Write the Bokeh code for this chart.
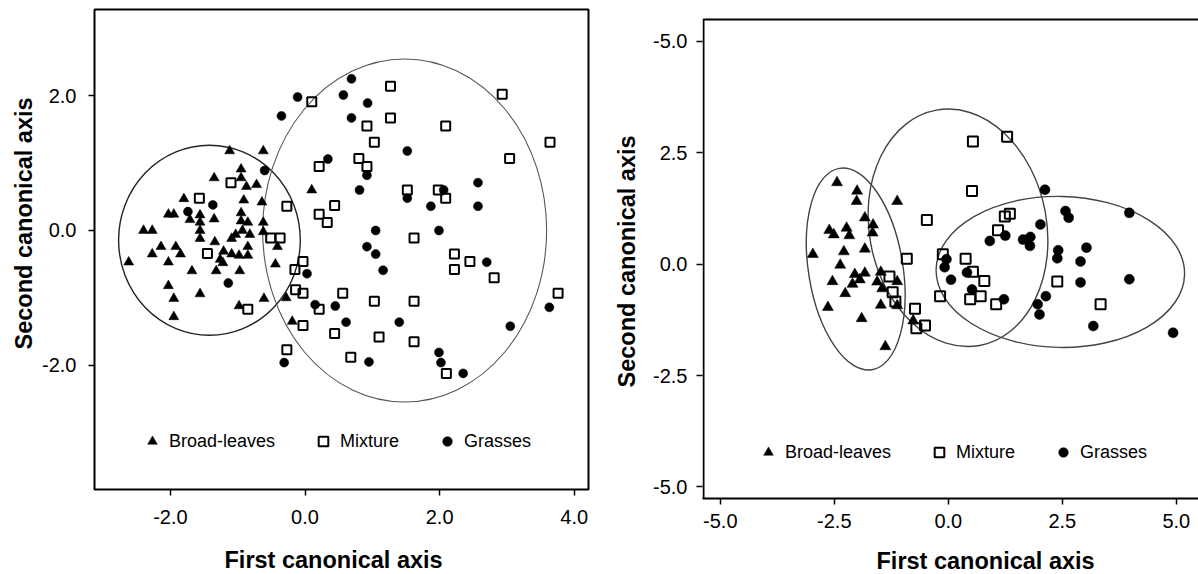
from bokeh.plotting import figure
from bokeh.models import (Range1d, FixedTicker, Legend, LegendItem, PrintfTickFormatter,
                          Title, BoxAnnotation)
from bokeh.layouts import row
from bokeh.embed import file_html
from bokeh.resources import INLINE

FONT = "Liberation Sans"

# ---------------- Left panel data ----------------
L_broad_x = [-1.12, -0.62, -0.95, -0.95, -1.35, -0.87, -0.72, -1.80, -0.91, -0.64,
             -2.03, -1.95, -1.71, -1.56, -1.35, -0.95, -0.95, -1.56, -1.56, -0.85,
             -0.62, -2.40, -2.27, -1.56, -1.09, -1.03, -0.93, -0.82, -1.34, -2.14,
             -1.92, -2.27, -1.85, -1.21, -1.09, -0.98, -0.85, -1.26, -1.22, -0.85,
             -0.41, -0.62, -2.62, -2.03, -1.68, -1.32, -0.97, -0.44, -2.03, -1.95,
             -1.56, -0.61, -0.28, -0.98, -1.95, -0.19, 0.10]
L_broad_y = [1.18, 1.18, 0.91, 0.78, 0.78, 0.65, 0.68, 0.47, 0.45, 0.42,
             0.24, 0.24, 0.16, 0.23, 0.17, 0.26, 0.14, 0.12, 0.00, 0.12,
             0.12, 0.00, 0.00, -0.12, -0.12, -0.06, 0.00, -0.06, -0.17, -0.24,
             -0.24, -0.35, -0.35, -0.31, -0.35, -0.37, -0.37, -0.43, -0.48, -0.24,
             -0.24, -0.02, -0.47, -0.47, -0.60, -0.60, -0.60, -0.50, -0.82, -1.01,
             -0.94, -1.01, -1.00, -1.12, -1.28, -1.35, 0.60]

L_mix_x = [0.10, 1.27, 2.93, 1.27, 0.92, 2.09, 1.03, 3.64, 0.80, 0.92,
           0.21, 3.04, -1.10, -1.57, -0.27, 0.44, 0.21, 0.33, 1.52, 1.98,
           2.09, -0.51, -0.37, 1.62, -1.45, 2.22, 2.45, 2.22, 2.81, -0.03,
           -0.15, -0.14, -0.03, 0.56, 1.03, 1.62, 3.76, -0.85, 0.21, -0.03,
           0.44, 1.10, 1.62, -0.27, 0.68, 2.10]
L_mix_y = [1.91, 2.14, 2.02, 1.67, 1.55, 1.55, 1.31, 1.31, 1.07, 0.95,
           0.95, 1.07, 0.71, 0.48, 0.36, 0.37, 0.24, 0.12, 0.60, 0.60,
           0.48, -0.11, -0.11, -0.11, -0.34, -0.35, -0.46, -0.58, -0.70, -0.46,
           -0.58, -0.88, -0.93, -0.93, -1.05, -1.05, -0.93, -1.17, -1.17, -1.41,
           -1.53, -1.58, -1.65, -1.77, -1.88, -2.12]

L_grass_x = [-0.11, -0.35, 0.57, 0.69, 0.93, 0.69, 1.52, 0.34, 0.92, 0.81,
             1.52, 1.87, 2.06, 2.57, 2.57, -0.60, -1.37, -1.74, 1.05, 1.99,
             0.92, 1.05, 1.16, 2.70, 0.03, -1.14, 0.15, 0.45, 0.61, 1.40,
             3.63, 3.05, 1.99, 2.02, 0.95, -0.31, 2.35]
L_grass_y = [1.98, 1.70, 2.01, 2.25, 1.89, 1.67, 1.18, 1.06, 0.82, 0.60,
             0.48, 0.36, 0.60, 0.71, 0.36, 0.89, 0.38, 0.28, 0.00, 0.00,
             -0.24, -0.35, -0.59, -0.47, -0.64, -0.78, -1.10, -1.12, -1.36, -1.36,
             -1.14, -1.42, -1.81, -1.96, -1.95, -1.96, -2.12]

# ellipses: centre x, centre y, width, height, angle (rad)
L_ell_x = [-1.42, 1.48]
L_ell_y = [-0.145, 0.0]
L_ell_w = [2.70, 4.22]
L_ell_h = [2.82, 5.09]
L_ell_a = [0.0, 0.0]

L_xticks = [-2, 0, 2, 4]
L_yticks = [-2, 0, 2]

# ---------------- Right panel data ----------------
R_broad_x = [-2.44, -2.00, -2.01, -1.12, -1.83, -1.65, -1.66, -2.61, -2.51, -2.23,
             -2.17, -2.97, -2.29, -1.83, -2.37, -2.05, -1.94, -1.83, -2.54, -2.10,
             -2.26, -1.48, -1.56, -1.45, -1.12, -2.64, -1.48, -1.90, -0.77, -1.38,
             -1.12]
R_broad_y = [1.83, 1.64, 1.41, 1.41, 1.04, 0.88, 0.70, 0.76, 0.66, 0.81,
             0.64, 0.22, 0.28, 0.34, -0.02, -0.23, -0.35, -0.20, -0.39, -0.45,
             -0.66, -0.18, -0.40, -0.55, -0.39, -0.97, -0.92, -1.22, -1.27, -1.85,
             -0.93]

R_mix_x = [0.54, 1.29, 0.52, -0.47, 1.24, 1.35, 1.09, -0.91, -0.12, 0.38,
           0.54, 0.79, -1.29, -1.22, -1.16, -0.73, -0.70, -0.51, -0.18, 0.48,
           0.71, 1.05, 2.39, 3.34]
R_mix_y = [2.75, 2.86, 1.64, 0.99, 1.07, 1.13, 0.76, 0.12, 0.22, 0.12,
           -0.17, -0.38, -0.28, -0.63, -0.84, -1.00, -1.44, -1.38, -0.72, -0.79,
           -0.72, -0.90, -0.39, -0.90]

R_grass_x = [2.12, 2.57, 2.64, 3.97, 2.02, 0.91, 1.25, 1.64, 1.80, 1.79,
             2.41, 2.39, 3.03, 2.90, 2.90, 3.97, -0.04, -0.08, 0.06, 0.41,
             0.52, 1.22, 2.14, 1.96, 2.00, 3.18, 4.93]
R_grass_y = [1.67, 1.19, 1.04, 1.15, 0.89, 0.52, 0.64, 0.55, 0.61, 0.41,
             0.31, 0.13, 0.37, 0.06, -0.41, -0.34, 0.11, -0.07, -0.35, -0.19,
             -0.57, -0.79, -0.72, -0.90, -1.13, -1.39, -1.54]

R_ell_x = [-2.03, 0.213, 2.457]
R_ell_y = [-0.11, 0.815, -0.175]
R_ell_w = [2.07, 3.89, 5.45]
R_ell_h = [4.58, 5.37, 3.39]
R_ell_a = [0.16, 0.183, -0.02]

R_xticks = [-5, -2.5, 0, 2.5, 5]
R_yticks = [-5, -2.5, 0, 2.5, 5]
R_ylabels = {5: "-5.0", 2.5: "2.5", 0: "0.0", -2.5: "-2.5", -5: "-5.0"}

LABELS = ["Broad-leaves", "Mixture", "Grasses"]
X_TITLE = "First canonical axis"
Y_TITLE = "Second canonical axis"
TITLE_SIZE = "23.5px"


def style(p, xticks, yticks, xstand, ystand):
    p.grid.visible = False
    p.background_fill_color = "white"
    p.border_fill_color = "white"
    for ax in (p.xaxis[0], p.yaxis[0]):
        ax.major_tick_in = 0
        ax.major_tick_out = 6
        ax.major_tick_line_width = 1.5
        ax.major_tick_line_color = "black"
        ax.minor_tick_line_color = None
        ax.major_label_text_font = FONT
        ax.major_label_text_font_size = "20px"
        ax.major_label_text_color = "black"
        ax.formatter = PrintfTickFormatter(format="%.1f")
    p.xaxis[0].ticker = FixedTicker(ticks=xticks)
    p.yaxis[0].ticker = FixedTicker(ticks=yticks)
    p.xaxis[0].major_label_standoff = xstand
    p.yaxis[0].major_label_standoff = ystand


def add_titles(p, xoff, xstand, yoff, ystand):
    p.add_layout(Title(text=X_TITLE, align="left", offset=xoff, standoff=xstand,
                       text_font=FONT, text_font_size=TITLE_SIZE, text_font_style="bold",
                       text_color="black"), "below")
    p.add_layout(Title(text=Y_TITLE, align="left", offset=yoff, standoff=ystand,
                       text_font=FONT, text_font_size=TITLE_SIZE, text_font_style="bold",
                       text_color="black"), "left")


def add_points(p, bx, by, mx, my, gx, gy, tri, sq, circ):
    r1 = p.scatter(bx, by, marker="triangle", size=tri, fill_color="black", line_color="black", line_width=0.5)
    r2 = p.scatter(mx, my, marker="square", size=sq, fill_color="white", fill_alpha=0.0, line_color="black", line_width=2)
    r3 = p.scatter(gx, gy, marker="circle", size=circ, fill_color="black", line_color="black", line_width=0.5)
    return r1, r2, r3


def add_legend(p, rs, loc):
    leg = Legend(items=[LegendItem(label=l, renderers=[r]) for l, r in zip(LABELS, rs)],
                 orientation="horizontal", location=loc,
                 glyph_width=24, glyph_height=24, label_standoff=5, spacing=36,
                 padding=0, margin=0, border_line_color=None, background_fill_alpha=0.0,
                 label_text_font=FONT, label_text_font_size="18px", label_text_color="black")
    p.add_layout(leg, "center")


# ---------------- Left figure ----------------
p1 = figure(frame_width=494, frame_height=480,
            x_range=Range1d(-3.128, 4.212), y_range=Range1d(-3.843, 3.279),
            output_backend="svg", toolbar_location=None,
            min_border_left=94, min_border_right=12, min_border_top=9, min_border_bottom=20)
style(p1, L_xticks, L_yticks, 14, 12)
p1.xaxis[0].axis_line_color = None
p1.yaxis[0].axis_line_color = None
p1.outline_line_color = "black"
p1.outline_line_width = 2
p1.outline_line_alpha = 1.0
p1.ellipse(L_ell_x, L_ell_y, width=L_ell_w, height=L_ell_h, angle=L_ell_a,
           fill_color=None, line_color=["#222222", "#555555"], line_width=[1.4, 1.1])
rs1 = add_points(p1, L_broad_x, L_broad_y, L_mix_x, L_mix_y, L_grass_x, L_grass_y, 10, 9, 9)
add_legend(p1, rs1, (46, 36))
add_titles(p1, 130, 37, 140, 5)

# ---------------- Right figure ----------------
# frame top is shared with the left panel (row alignment); the visible top spine sits lower
R_top = 5.49
p2 = figure(frame_width=496, frame_height=489,
            x_range=Range1d(-5.39, 5.487), y_range=Range1d(-5.26, 5.714),
            output_backend="svg", toolbar_location=None,
            min_border_left=102, min_border_right=0, min_border_top=9, min_border_bottom=20)
style(p2, R_xticks, R_yticks, 9, 9)
p2.yaxis[0].major_label_overrides = R_ylabels
p2.outline_line_color = None
p2.xaxis[0].axis_line_width = 2
p2.xaxis[0].axis_line_color = "black"
p2.yaxis[0].axis_line_color = None
p2.add_layout(BoxAnnotation(left=-5.368, right=7.0, top=R_top, bottom=-5.30,
                            fill_alpha=0.0, line_color="black", line_width=2, line_alpha=1.0))
p2.ellipse(R_ell_x, R_ell_y, width=R_ell_w, height=R_ell_h, angle=R_ell_a,
           fill_color=None, line_color="#444444", line_width=1.4)
rs2 = add_points(p2, R_broad_x, R_broad_y, R_mix_x, R_mix_y, R_grass_x, R_grass_y, 11, 10, 10)
add_legend(p2, rs2, (54, 34))
add_titles(p2, 174, 31, 111, 22)

layout = row(p1, p2, spacing=0)
open("out.html", "w").write(file_html(layout, INLINE))
